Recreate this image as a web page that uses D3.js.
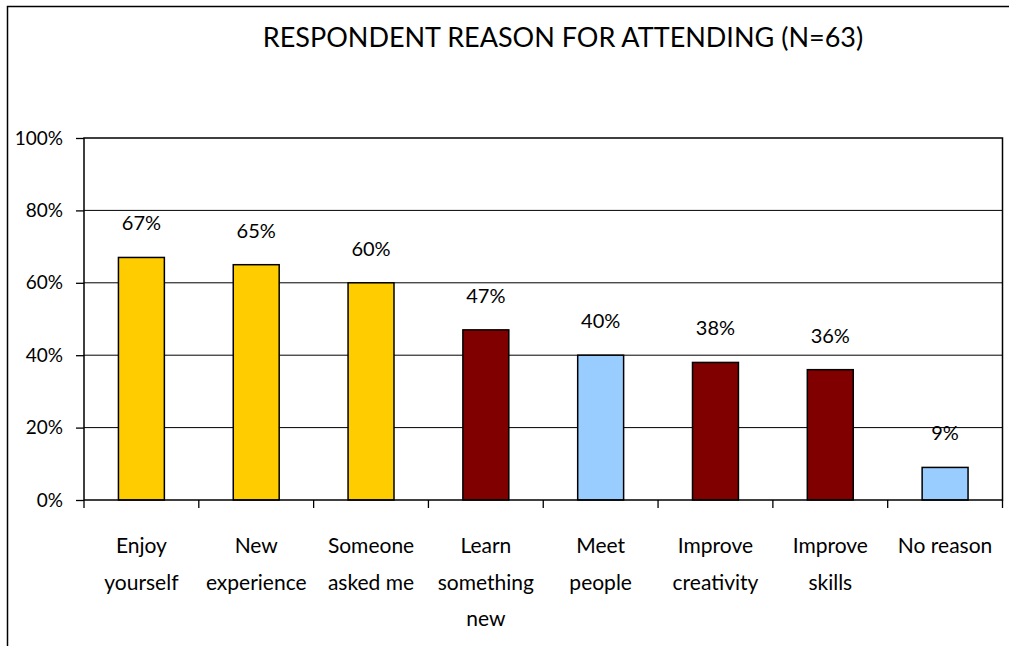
<!DOCTYPE html>
<html lang="en">
<head>
    <meta charset="utf8">
    <title>Respondent Reason For Attending</title>
    <script src="https://d3js.org/d3.v7.min.js"></script>
    <style>
        body { margin: 0; background: #fff; }
        svg { display: block; }
        text { font-family: Lato, "Open Sans", sans-serif; fill: #000; }
    </style>
</head>
<body>
    <svg id="chart" width="1009" height="646"></svg>
    <script>
        // data
        const categories = [
            ["Enjoy", "yourself"],
            ["New", "experience"],
            ["Someone", "asked me"],
            ["Learn", "something", "new"],
            ["Meet", "people"],
            ["Improve", "creativity"],
            ["Improve", "skills"],
            ["No reason"]
        ];
        const values = [67, 65, 60, 47, 40, 38, 36, 9];
        const barColors = ["#FFCC00", "#FFCC00", "#FFCC00", "#800000", "#99CCFF", "#800000", "#800000", "#99CCFF"];
        const yTicks = [0, 20, 40, 60, 80, 100];
        const title = "RESPONDENT REASON FOR ATTENDING (N=63)";

        const svg = d3.select("#chart");
        const plotLeft = 84, plotRight = 1002.5, plotTop = 138, plotBottom = 500;

        // outer frame
        svg.append("rect")
           .attr("x", 7.5).attr("y", 6.5)
           .attr("width", 1010).attr("height", 650)
           .attr("fill", "none").attr("stroke", "#000").attr("stroke-width", 1.5);

        svg.append("text")
           .attr("x", 563).attr("y", 47)
           .attr("text-anchor", "middle")
           .attr("font-size", 27)
           .text(title);

        const idx = d3.range(categories.length);
        const x = d3.scaleBand().domain(idx).range([plotLeft, plotRight]).paddingInner(0.6).paddingOuter(0.3);
        const y = d3.scaleLinear().domain([0, 100]).range([plotBottom, plotTop]);

        // gridlines
        svg.append("g")
           .selectAll("line")
           .data(yTicks.filter(d => d > 0 && d < 100))
           .join("line")
           .attr("x1", plotLeft).attr("x2", plotRight)
           .attr("y1", d => y(d)).attr("y2", d => y(d))
           .attr("stroke", "#000").attr("stroke-width", 1);

        // y axis
        const yAxis = svg.append("g")
           .attr("transform", `translate(${plotLeft},0)`)
           .call(d3.axisLeft(y).tickValues(yTicks).tickFormat(d => d + "%").tickSize(8).tickPadding(13));
        yAxis.select(".domain").remove();
        yAxis.selectAll("line").attr("stroke", "#000").attr("stroke-width", 1.3);
        yAxis.selectAll("text").attr("font-size", 19).attr("font-family", "Lato, sans-serif");

        // bottom ticks at category boundaries
        const bw = (plotRight - plotLeft) / categories.length;
        svg.append("g")
           .selectAll("line")
           .data(d3.range(categories.length + 1))
           .join("line")
           .attr("x1", d => plotLeft + d * bw).attr("x2", d => plotLeft + d * bw)
           .attr("y1", plotBottom).attr("y2", plotBottom + 8)
           .attr("stroke", "#000").attr("stroke-width", 1.3);

        // bars
        svg.append("g")
           .selectAll("rect")
           .data(values)
           .join("rect")
           .attr("x", (d, i) => x(i))
           .attr("y", d => y(d))
           .attr("width", x.bandwidth())
           .attr("height", d => y(0) - y(d))
           .attr("fill", (d, i) => barColors[i])
           .attr("stroke", "#000").attr("stroke-width", 1.5);

        // value labels
        svg.append("g")
           .selectAll("text")
           .data(values)
           .join("text")
           .attr("x", (d, i) => x(i) + x.bandwidth() / 2)
           .attr("y", d => y(d) - 27)
           .attr("text-anchor", "middle")
           .attr("font-size", 20)
           .text(d => d + "%");

        // plot frame
        svg.append("rect")
           .attr("x", plotLeft).attr("y", plotTop)
           .attr("width", plotRight - plotLeft).attr("height", plotBottom - plotTop)
           .attr("fill", "none").attr("stroke", "#000").attr("stroke-width", 1.5);

        // category labels
        const cat = svg.append("g")
           .selectAll("text")
           .data(categories)
           .join("text")
           .attr("text-anchor", "middle")
           .attr("font-size", 21);
        cat.selectAll("tspan")
           .data((d, i) => d.map(line => ({ line, i })))
           .join("tspan")
           .attr("x", d => plotLeft + (d.i + 0.5) * bw)
           .attr("y", (d, j) => 553 + j * 36.5)
           .text(d => d.line);
    </script>
</body>
</html>
